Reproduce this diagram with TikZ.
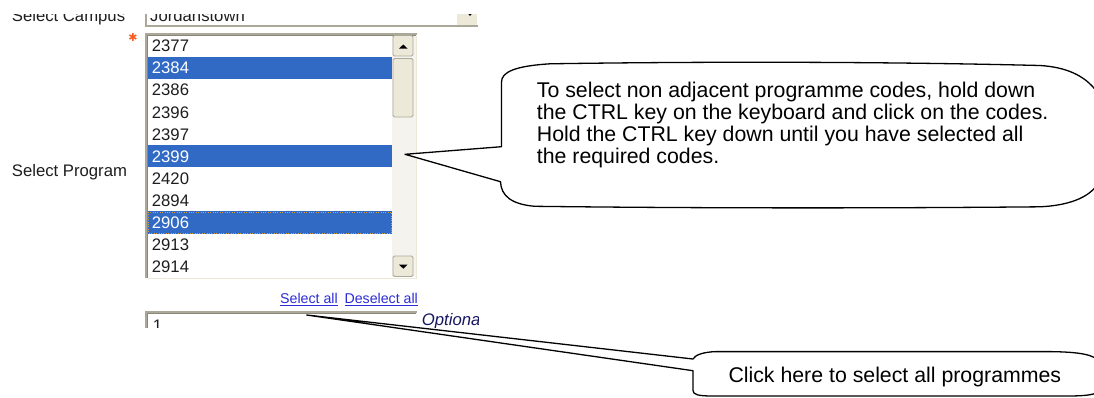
\documentclass[tikz,border=0pt]{standalone}
\usepackage{fontspec}
\setmainfont{Liberation Sans}
\newfontfamily\symfont{DejaVu Sans}
\definecolor{xpblue}{HTML}{316AC5}
\definecolor{xpface}{HTML}{ECE9D8}
\definecolor{xpshade}{HTML}{ACA899}
\definecolor{xpdark}{HTML}{8A8778}
\definecolor{uitext}{HTML}{1E1E1E}
\definecolor{linkblue}{HTML}{2B2BD6}
\definecolor{starred}{HTML}{FF5A1E}
\definecolor{track}{HTML}{F4F3EE}
\definecolor{focusline}{HTML}{D8A040}

\begin{document}
\begin{tikzpicture}[x=1pt,y=-1pt,
    uitxt/.style={anchor=base west,inner sep=0pt,text=uitext,font=\fontsize{16.7}{20}\selectfont},
    seltxt/.style={uitxt,text=white},
    linktxt/.style={anchor=base west,inner sep=0pt,text=linkblue,font=\fontsize{14.2}{17}\selectfont},
    xpbutton/.style={fill=xpface,draw=xpshade,line width=0.8pt,rounded corners=1.5pt},
    callout/.style={draw=black,line width=1.3pt,fill=white,line join=round},
    notetxt/.style={inner sep=0pt,text=black,font=\fontsize{21.3}{22}\selectfont}]

    \useasboundingbox (0,0) rectangle (1094,397);

    \begin{scope}
    \clip (0,14.5) rectangle (478,327);
    \fill[white] (145,0) rectangle (478,27);
    \draw[xpshade,line width=1.5pt] (145.75,0) -- (145.75,26.2) -- (478,26.2);
    \fill[xpface] (457,0) rectangle (477,25);
    \fill (467.5,13) -- (472.5,13) -- (470,16) -- cycle;
    \node[uitxt] (campuslbl) at (11.7,21.5) {Select Campus};
    \node[uitxt] (campus) at (150,21.5) {Jordanstown};

    \node[text=starred,inner sep=0pt,font=\symfont\fontsize{11}{11}\selectfont] (star) at (133,37.5) {✱};

    \fill[white] (145,33) rectangle (417,278.5);
    \draw[xpshade,line width=1.5pt] (145.75,278) -- (145.75,33.75) -- (417,33.75);
    \draw[xpdark] (147,277.5) -- (147,35) -- (416,35);
    \draw[xpface] (147.5,277.8) -- (416.3,277.8) -- (416.3,35.5);

    \fill[xpblue] (148,56.7) rectangle (391.7,78.8);
    \fill[xpblue] (148,145.1) rectangle (391.7,167.2);
    \fill[xpblue] (148,211.4) rectangle (391.7,233.5);
    \draw[focusline,dotted] (148.5,211.9) rectangle (391.2,233);

    \node[uitxt] (i2377) at (151.7,51.7) {2377};
    \node[seltxt] (i2384) at (151.7,73.8) {2384};
    \node[uitxt] (i2386) at (151.7,95.9) {2386};
    \node[uitxt] (i2396) at (151.7,118.0) {2396};
    \node[uitxt] (i2397) at (151.7,140.1) {2397};
    \node[seltxt] (i2399) at (151.7,162.2) {2399};
    \node[uitxt] (i2420) at (151.7,184.3) {2420};
    \node[uitxt] (i2894) at (151.7,206.4) {2894};
    \node[seltxt] (i2906) at (151.7,228.5) {2906};
    \node[uitxt] (i2913) at (151.7,250.6) {2913};
    \node[uitxt] (i2914) at (151.7,272.7) {2914};

    \fill[track] (392,36) rectangle (415.5,277);
    \draw[xpbutton] (393,35.5) rectangle (413,56);
    \fill (399,48.5) -- (407.5,48.5) -- (403.3,44.5) -- cycle;
    \draw[xpbutton] (393,58.5) rectangle (413,117);
    \draw[xpbutton] (393,256) rectangle (413,276.5);
    \fill (399,264.7) -- (407.5,264.7) -- (403.3,268.7) -- cycle;

    \node[uitxt] (proglbl) at (11.7,176.7) {Select Program};

    \node[linktxt] (selall) at (280,303.3) {\underline{Select all}};
    \node[linktxt] (deselall) at (344.3,303.3) {\underline{Deselect all}};

    \fill[white] (145,310.7) rectangle (417,330);
    \draw[xpshade,line width=2pt] (146,330) -- (146,311.7) -- (416.7,311.7);
    \draw[xpdark] (147.5,330) -- (147.5,313) -- (416,313);
    \node[uitxt] (optbox) at (152.7,331) {1};
    \node[uitxt,text=uitext!70!blue,font=\fontsize{16.7}{20}\selectfont\itshape] (optlbl) at (421.7,325.5) {Optiona};
    \end{scope}

    \coordinate (listtip) at (405,154.3);
    \draw[callout] (501.5,146.7) -- (listtip) -- (500.5,181.7)
        .. controls (501,196) and (512,204.5) .. (535,206.3)
        .. controls (700,208.3) and (880,208.3) .. (1040,206.8)
        .. controls (1068,205.5) and (1088,198) .. (1097,185)
        .. controls (1104,160) and (1104,120) .. (1097,92)
        .. controls (1085,75) and (1065,67) .. (1040,65.5)
        .. controls (880,61.5) and (700,61.5) .. (550,63.8)
        .. controls (515,66) and (501.5,72) .. (501.5,82)
        -- cycle;
    \node[notetxt,anchor=north west,align=left] (ctrlnote) at (536.7,82)
        {To select non adjacent programme codes, hold down\\
         the CTRL key on the keyboard and click on the codes.\\
         Hold the CTRL key down until you have selected all\\
         the required codes.};

    \coordinate (clicktip) at (306.7,315);
    \draw[callout] (693,359) -- (clicktip) -- (693,370.7) -- (693,390.5)
        .. controls (693,394.5) and (698,396) .. (712,396)
        -- (1070,396)
        .. controls (1088,395.8) and (1095,394.5) .. (1100,391)
        -- (1100,362)
        .. controls (1094,354.5) and (1080,352) .. (1050,351.6)
        -- (716,351.6)
        .. controls (703,352) and (695,355) .. (693,359)
        -- cycle;
    \node[notetxt,anchor=base west] (allnote) at (728.3,382.7) {Click here to select all programmes};
\end{tikzpicture}
\end{document}
